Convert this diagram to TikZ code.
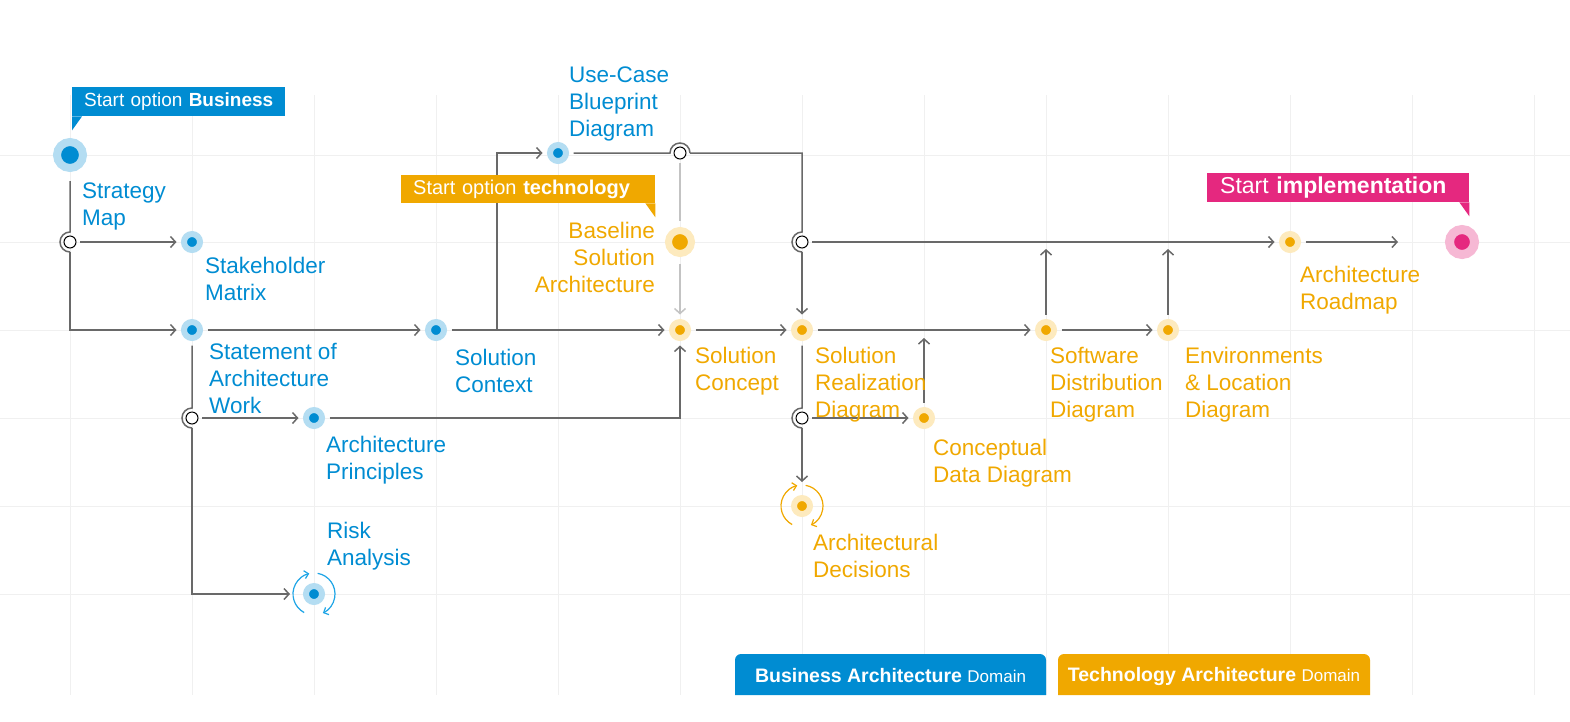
\documentclass[tikz,border=0pt]{standalone}
\usepackage{fontspec}
\setmainfont{Liberation Sans}
\usepackage{xcolor}
\usetikzlibrary{arrows.meta, positioning, calc}

\definecolor{bdot}{RGB}{0,140,210}
\definecolor{bhalo}{RGB}{180,221,242}
\definecolor{bcyc}{RGB}{30,165,230}
\definecolor{odot}{RGB}{240,168,0}
\definecolor{ohalo}{RGB}{253,234,190}
\definecolor{pdot}{RGB}{229,40,127}
\definecolor{phalo}{RGB}{246,184,212}
\definecolor{lgray}{RGB}{105,105,105}
\definecolor{llgray}{RGB}{195,195,195}
\definecolor{gridc}{RGB}{240,240,240}

\begin{document}
\begin{tikzpicture}[x=1pt, y=1pt,
    bnode/.style={circle, inner sep=0pt, minimum size=16pt, line width=6pt, fill=bdot, draw=bhalo, outer sep=7.5pt},
    onode/.style={bnode, fill=odot, draw=ohalo},
    jn/.style={circle, inner sep=0pt, minimum size=12pt, line width=1pt, draw=black, fill=white, outer sep=4pt},
    conn/.style={draw=lgray, line width=1.5pt},
    arr/.style={conn, -{Straight Barb[length=5pt, width=11pt]}},
    cyc/.style={draw=#1, line width=1.2pt, -{Straight Barb[length=4pt, width=8pt]}},
    btxt/.style={text=bdot, font=\fontsize{22.5}{27}\selectfont, align=left, inner sep=0pt, anchor=north west},
    otxt/.style={btxt, text=odot},
    flag/.style={anchor=north west, inner xsep=12pt, inner ysep=0pt, minimum height=29pt, text=white, align=left},
    gridl/.style={draw=gridc, line width=1pt}]

    \useasboundingbox (0,0) rectangle (1570,-721);

    % grid
    \foreach \x in {70,192,...,1534}
        \draw[gridl] (\x,-95) -- (\x,-695);
    \foreach \y in {155,242,330,418,506,594}
        \draw[gridl] (0,-\y) -- (1570,-\y);

    % business nodes
    \node[bnode, minimum size=26pt, line width=8pt, outer sep=13pt] (sm) at (70,-155) {};
    \node[jn] (j1) at (70,-242) {};
    \node[bnode] (stk) at (192,-242) {};
    \node[bnode] (saw) at (192,-330) {};
    \node[jn] (j2) at (192,-418) {};
    \node[bnode] (ap) at (314,-418) {};
    \node[bnode, outer sep=16pt] (ra) at (314,-594) {};
    \node[bnode] (sc) at (436,-330) {};
    \node[bnode] (uc) at (558,-153) {};
    \coordinate (br) at (497,-330);

    % technology nodes
    \node[jn] (jt) at (680,-153) {};
    \node[onode, minimum size=23pt, line width=7pt, outer sep=10pt] (bsa) at (680,-242) {};
    \node[onode] (scon) at (680,-330) {};
    \node[jn] (j3) at (802,-242) {};
    \node[onode] (srd) at (802,-330) {};
    \node[jn] (j4) at (802,-418) {};
    \node[onode] (cdd) at (924,-418) {};
    \node[onode, outer sep=16pt] (ad) at (802,-506) {};
    \node[onode] (sdd) at (1046,-330) {};
    \node[onode] (elp) at (1168,-330) {};
    \node[onode] (ar) at (1290,-242) {};
    \node[bnode, minimum size=25pt, line width=9pt, fill=pdot, draw=phalo] (impl) at (1462,-242) {};

    % review cycles
    \draw[cyc=bcyc] ($(ra.center)+(242:21)$) arc[start angle=242, end angle=103, radius=21];
    \draw[cyc=bcyc] ($(ra.center)+(80:21)$) arc[start angle=80, end angle=-65, radius=21];
    \draw[cyc=odot] ($(ad.center)+(242:21)$) arc[start angle=242, end angle=103, radius=21];
    \draw[cyc=odot] ($(ad.center)+(80:21)$) arc[start angle=80, end angle=-65, radius=21];

    % connectors
    \draw[conn] (sm.south) -- (j1.north) arc[start angle=90, end angle=270, radius=10];
    \draw[arr] (j1.east) -- (stk);
    \draw[arr] (j1.south) |- (saw);
    \draw[arr] (saw) -- (sc);
    \draw[conn] (saw.south) -- (j2.north) arc[start angle=90, end angle=270, radius=10];
    \draw[arr] (j2.east) -- (ap);
    \draw[arr] (j2.south) |- (ra);
    \draw[arr] (sc) -- (scon);
    \draw[arr] (br) |- (uc);
    \draw[conn] (uc) -- (jt.west) arc[start angle=180, end angle=0, radius=10];
    \draw[conn] (jt.east) -| (j3.north) arc[start angle=90, end angle=270, radius=10];
    \draw[draw=llgray, line width=1.5pt] (jt.south) -- (bsa);
    \draw[arr, draw=llgray] (bsa) -- (scon);
    \draw[arr] (ap) -| (scon);
    \draw[arr] (scon) -- (srd);
    \draw[arr] (j3.south) -- (srd);
    \draw[arr] (j3.east) -- (ar);
    \draw[arr] (srd) -- (sdd);
    \draw[conn] (srd.south) -- (j4.north) arc[start angle=90, end angle=270, radius=10];
    \draw[arr] (j4.east) -- (cdd);
    \draw[arr] (j4.south) -- (ad);
    \draw[arr, shorten >=8pt] (cdd) -- (cdd |- srd);
    \draw[arr] (sdd) -- (elp);
    \draw[arr, shorten >=7pt] (sdd) -- (sdd |- ar);
    \draw[arr, shorten >=7pt] (elp) -- (elp |- ar);
    \draw[arr, shorten >=44pt] (ar) -- (impl);

    % labels
    \node[btxt] (lsm) at (82,-183) {Strategy\\Map};
    \node[btxt] (lstk) at (205,-257) {Stakeholder\\Matrix};
    \node[btxt] (lsaw) at (209,-343) {Statement of\\Architecture\\Work};
    \node[btxt] (lap) at (326,-436) {Architecture\\Principles};
    \node[btxt] (lra) at (327,-522) {Risk\\Analysis};
    \node[btxt] (lsc) at (455,-349) {Solution\\Context};
    \node[btxt] (luc) at (569,-67) {Use-Case\\Blueprint\\Diagram};
    \node[otxt, anchor=north east, align=right] (lbsa) at (655,-222) {Baseline\\Solution\\Architecture};
    \node[otxt] (lscon) at (695,-347) {Solution\\Concept};
    \node[otxt] (lsrd) at (815,-347) {Solution\\Realization\\Diagram};
    \node[otxt] (lcdd) at (933,-439) {Conceptual\\Data Diagram};
    \node[otxt] (lad) at (813,-534) {Architectural\\Decisions};
    \node[otxt] (lsdd) at (1050,-347) {Software\\Distribution\\Diagram};
    \node[otxt] (lelp) at (1185,-347) {Environments\\\& Location\\Diagram};
    \node[otxt] (lar) at (1300,-266) {Architecture\\Roadmap};

    % start flags
    \node[flag, fill=bdot, text width=189pt, font=\fontsize{19}{22}\selectfont] (fbus) at (72,-87) {\mbox{Start option \textbf{Business}}};
    \fill[bdot] (fbus.south west) -- ++(10,0) -- ++(-10,-14) -- cycle;
    \node[flag, fill=odot, text width=230pt, minimum height=28pt, font=\fontsize{20}{23}\selectfont] (ftec) at (401,-175) {\mbox{Start option \textbf{technology}}};
    \fill[odot] (ftec.south east) -- ++(-10,0) -- ++(10,-14) -- cycle;
    \node[flag, fill=pdot, inner xsep=13pt, text width=236pt, font=\fontsize{23}{26}\selectfont] (fimp) at (1207,-173) {\mbox{Start \textbf{implementation}}};
    \fill[pdot] (fimp.south east) -- ++(-10,0) -- ++(10,-14) -- cycle;

    % domain legend
    \fill[bdot] (735,-695) -- (735,-660) arc[start angle=180, end angle=90, radius=6] -- (1040,-654) arc[start angle=90, end angle=0, radius=6] -- (1046,-695) -- cycle;
    \node[text=white, font=\fontsize{19.5}{22}\selectfont] (lgb) at (890.5,-676) {\textbf{Business Architecture} {\fontsize{17}{20}\selectfont Domain}};
    \fill[odot] (1058,-695) -- (1058,-660) arc[start angle=180, end angle=90, radius=6] -- (1364,-654) arc[start angle=90, end angle=0, radius=6] -- (1370,-695) -- cycle;
    \node[text=white, font=\fontsize{19.5}{22}\selectfont] (lgt) at (1214,-676) {\textbf{Technology Architecture} {\fontsize{17}{20}\selectfont Domain}};
\end{tikzpicture}
\end{document}
